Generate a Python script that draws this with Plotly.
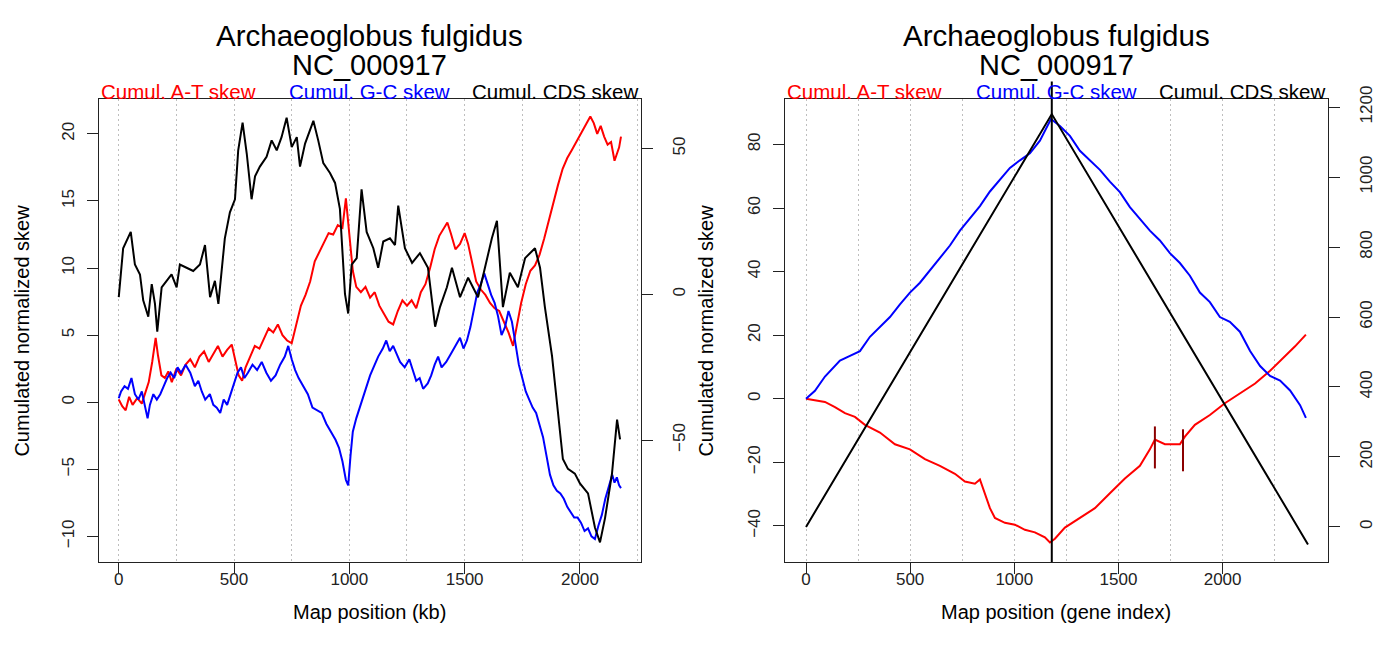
import plotly.graph_objects as go

# ---------------- Left panel: cumulated skews along the chromosome (kb) ----------------
at_kb = [0, 15, 30, 45, 60, 80, 100, 115, 130, 145, 160, 170, 185, 200, 215, 230, 250, 270, 290, 310,
         330, 350, 370, 390, 410, 430, 450, 470, 490, 505, 520, 535, 550, 570, 590, 610, 630, 650, 670, 690,
         710, 730, 750, 770, 790, 810, 830, 850, 870, 890, 910, 930, 950, 970, 985, 1000, 1015, 1030, 1050, 1070,
         1090, 1110, 1130, 1150, 1170, 1190, 1210, 1230, 1250, 1270, 1290, 1310, 1330, 1350, 1370, 1390, 1410, 1425, 1440, 1460,
         1480, 1500, 1515, 1530, 1550, 1570, 1590, 1610, 1630, 1650, 1670, 1690, 1710, 1725, 1745, 1765, 1785, 1805, 1825, 1845,
         1865, 1885, 1905, 1925, 1945, 1965, 1985, 2005, 2025, 2045, 2060, 2075, 2090, 2105, 2120, 2135, 2150, 2160, 2170, 2178]
at_skew = [0.2, -0.3, -0.6, 0.4, -0.2, 0.3, -0.1, 0.8, 1.5, 3.0, 4.8, 3.5, 2.0, 1.8, 2.3, 1.5, 2.5, 2.0, 2.8, 3.2,
           2.6, 3.4, 3.8, 3.0, 3.6, 4.2, 3.4, 3.9, 4.3, 3.2, 2.0, 1.6, 2.6, 3.4, 4.2, 4.0, 4.8, 5.5, 5.2, 5.8,
           5.0, 4.6, 4.4, 5.8, 7.2, 8.0, 9.0, 10.5, 11.2, 12.0, 12.6, 12.5, 13.2, 13.0, 15.2, 12.5, 9.8, 8.6, 8.2, 8.6,
           7.8, 8.2, 7.2, 6.6, 6.0, 5.8, 6.8, 7.6, 7.2, 7.6, 7.0, 8.2, 8.8, 10.0, 11.4, 12.4, 13.0, 13.4, 12.6, 11.4,
           11.8, 12.6, 11.8, 10.6, 9.0, 8.4, 8.0, 7.4, 7.0, 6.8, 6.0, 5.2, 4.2, 5.6, 7.4, 8.8, 9.8, 10.2, 11.0, 12.2,
           13.6, 15.0, 16.2, 17.4, 18.2, 18.8, 19.4, 20.0, 20.6, 21.3, 20.8, 20.0, 20.6, 19.8, 19.2, 19.4, 18.0, 18.6, 19.0, 19.8]

gc_kb = [0, 10, 25, 40, 55, 70, 85, 100, 115, 125, 135, 150, 165, 180, 195, 210, 225, 240, 255, 270,
         290, 310, 330, 345, 360, 375, 395, 410, 425, 440, 455, 470, 485, 500, 515, 530, 545, 560, 580, 600,
         620, 640, 660, 680, 700, 720, 735, 750, 765, 780, 800, 820, 840, 860, 880, 900, 920, 940, 955, 970,
         985, 995, 1005, 1015, 1030, 1045, 1060, 1075, 1090, 1110, 1125, 1145, 1160, 1175, 1190, 1205, 1220, 1240, 1260, 1275,
         1290, 1305, 1320, 1340, 1355, 1370, 1385, 1400, 1420, 1440, 1460, 1480, 1495, 1510, 1525, 1540, 1555, 1570, 1585, 1600,
         1615, 1630, 1645, 1660, 1675, 1690, 1705, 1720, 1735, 1750, 1765, 1780, 1795, 1810, 1825, 1840, 1855, 1870, 1885, 1900,
         1915, 1930, 1945, 1960, 1975, 1990, 2005, 2020, 2035, 2050, 2065, 2080, 2095, 2110, 2125, 2140, 2150, 2160, 2170, 2178]
gc_skew = [0.3, 0.8, 1.2, 1.0, 1.8, 0.6, 0.2, 0.8, -0.4, -1.2, -0.2, 0.6, 0.2, 0.6, 1.2, 1.8, 2.2, 1.8, 2.6, 2.2,
           2.8, 2.2, 1.2, 1.6, 0.8, 0.2, 0.6, -0.2, -0.4, -0.8, 0.2, -0.2, 0.6, 1.4, 2.2, 2.6, 1.8, 2.2, 2.8, 2.4,
           3.0, 2.2, 1.6, 2.0, 2.8, 3.4, 4.2, 3.2, 2.4, 1.8, 1.2, 0.6, -0.4, -0.6, -0.8, -1.6, -2.2, -2.8, -3.4, -4.4,
           -5.8, -6.2, -4.0, -2.2, -1.2, -0.4, 0.4, 1.2, 2.0, 2.8, 3.4, 4.0, 4.6, 3.8, 4.2, 3.6, 3.0, 2.6, 3.2, 2.4,
           1.6, 1.8, 1.0, 1.4, 2.0, 2.8, 3.4, 2.6, 3.0, 3.6, 4.2, 4.8, 4.0, 4.6, 5.6, 7.0, 8.2, 8.8, 9.6, 8.8,
           8.0, 7.4, 6.4, 5.0, 5.6, 6.8, 6.0, 4.4, 2.8, 1.8, 0.8, 0.2, -0.4, -0.8, -1.8, -2.6, -4.0, -5.4, -6.2, -6.6,
           -6.8, -7.2, -7.8, -8.2, -8.6, -8.6, -9.0, -9.6, -9.4, -10.0, -10.2, -9.2, -8.4, -7.2, -6.2, -5.4, -6.0, -5.6, -6.2, -6.4]

cds_kb = [0, 19, 52, 70, 92, 106, 128, 143, 157, 167, 186, 208, 229, 251, 265, 294, 323, 352, 374, 396,
          417, 432, 460, 482, 504, 518, 537, 555, 576, 591, 612, 641, 663, 685, 706, 728, 750, 772, 786, 808,
          844, 865, 887, 916, 938, 959, 981, 995, 1010, 1032, 1053, 1075, 1104, 1125, 1147, 1176, 1198, 1212, 1241, 1272,
          1306, 1341, 1372, 1393, 1423, 1445, 1480, 1515, 1558, 1588, 1618, 1640, 1666, 1696, 1731, 1762, 1805, 1827, 1848, 1879,
          1905, 1926, 1948, 1978, 2000, 2035, 2065, 2087, 2109, 2139, 2161, 2174]
cds_skew = [-1.0, 15.8, 21.4, 10.2, 6.8, -2.1, -7.7, 3.5, -3.3, -12.8, 2.4, 4.6, 6.8, 2.4, 10.2, 9.1, 8.0, 10.2, 16.9, -1.0,
            4.6, -3.3, 19.2, 28.1, 32.6, 49.4, 58.9, 48.3, 32.6, 40.5, 43.8, 47.2, 52.8, 49.4, 53.9, 60.6, 50.5, 53.9, 43.8, 51.7,
            59.5, 52.8, 45.0, 41.6, 38.2, 29.3, 0.1, -6.6, 10.2, 12.4, 36.0, 21.4, 15.8, 9.1, 18.1, 19.2, 16.9, 30.4, 15.8, 10.8,
            14.1, 9.1, -11.1, -4.4, 2.4, 9.1, -1.0, 5.7, -1.0, 9.1, 19.2, 25.2, -4.4, 7.4, 2.4, 12.4, 15.8, 9.1, -4.4, -21.2,
            -41.4, -56.5, -59.9, -61.5, -64.9, -68.3, -80.0, -85.1, -76.7, -61.5, -43.0, -49.8]

# ---------------- Right panel: cumulated skews along the gene order ----------------
at_gene = [0, 43, 91, 139, 187, 235, 283, 355, 427, 499, 571, 643, 715, 763, 811, 835, 859, 883, 907, 955,
           1003, 1051, 1099, 1147, 1171, 1195, 1243, 1315, 1387, 1459, 1531, 1603, 1651, 1675, 1723, 1795, 1819, 1867, 1939, 2011,
           2083, 2156, 2228, 2300, 2348, 2400]
at_gene_skew = [0, -0.5, -1.0, -2.6, -4.5, -5.7, -8.2, -10.6, -14.3, -15.9, -19.0, -21.1, -23.6, -26.0, -26.7, -25.4, -29.7, -34.4, -37.5, -39.0,
                -39.6, -41.2, -42.0, -43.6, -45.2, -44.0, -40.5, -37.5, -34.4, -29.7, -25.1, -21.1, -15.9, -12.8, -14.3, -14.3, -11.9, -8.2, -5.1, -1.4,
                1.7, 4.8, 8.8, 13.4, 16.5, 20.2]

gc_gene = [0, 43, 91, 163, 211, 259, 307, 355, 403, 451, 499, 547, 595, 643, 691, 739, 787, 835, 883, 931,
           979, 1027, 1075, 1123, 1147, 1176, 1219, 1267, 1315, 1363, 1411, 1459, 1507, 1555, 1603, 1651, 1699, 1747, 1795, 1843,
           1891, 1939, 1987, 2035, 2083, 2132, 2180, 2228, 2276, 2324, 2372, 2400]
gc_gene_skew = [0, 2.5, 7.0, 12.0, 13.5, 15.0, 19.5, 22.6, 25.7, 29.7, 33.4, 36.5, 40.5, 44.2, 48.2, 52.9, 56.6, 60.6, 65.2, 68.9,
                72.6, 75.0, 77.2, 81.2, 84.3, 88.0, 85.8, 82.7, 78.0, 75.0, 72.0, 68.3, 65.0, 60.3, 56.6, 52.9, 49.8, 45.8, 42.7, 38.7,
                33.4, 30.4, 25.7, 24.2, 21.1, 15.0, 10.3, 7.2, 5.7, 2.6, -2.0, -6.0]

cds_gene = [0, 1180, 2410]
cds_gene_skew = [0, 1180, -50]
origin_gene = 1180

mark_gene = [1675, 1810]
mark_skew = [-15.3, -16.2]

kb_ticks = [0, 500, 1000, 1500, 2000]
gene_ticks = [0, 500, 1000, 1500, 2000]

RED, BLUE, BLACK, DARKRED = "#FF0000", "#0000FF", "#000000", "#8B0000"
FONT = "Liberation Sans, Arial, Helvetica, sans-serif"
AXIS_COL = "#222222"
GRID_COL = "#BEBEBE"
GRID_DASH = "2px,3px"

fig = go.Figure()
fig.add_trace(go.Scatter(x=at_kb, y=at_skew, mode="lines", line=dict(color=RED, width=2), xaxis="x", yaxis="y"))
fig.add_trace(go.Scatter(x=gc_kb, y=gc_skew, mode="lines", line=dict(color=BLUE, width=2), xaxis="x", yaxis="y"))
fig.add_trace(go.Scatter(x=cds_kb, y=cds_skew, mode="lines", line=dict(color=BLACK, width=2), xaxis="x", yaxis="y2"))

fig.add_trace(go.Scatter(x=at_gene, y=at_gene_skew, mode="lines", line=dict(color=RED, width=2), xaxis="x2", yaxis="y3"))
fig.add_trace(go.Scatter(x=gc_gene, y=gc_gene_skew, mode="lines", line=dict(color=BLUE, width=2), xaxis="x2", yaxis="y3"))
fig.add_trace(go.Scatter(x=cds_gene, y=cds_gene_skew, mode="lines", line=dict(color=BLACK, width=2), xaxis="x2", yaxis="y4"))
fig.add_trace(go.Scatter(x=mark_gene, y=mark_skew, mode="markers",
                         marker=dict(symbol="line-ns-open", size=30, color=DARKRED, line=dict(color=DARKRED, width=2)),
                         xaxis="x2", yaxis="y3"))

# vertical line at the origin of replication, overhanging the top of the frame
fig.add_shape(type="line", xref="x2", yref="paper", x0=origin_gene, x1=origin_gene,
              y0=0.1437, y1=0.893, line=dict(color=BLACK, width=2))

tickfont = dict(family=FONT, size=17, color="#222222")

def xaxis_cfg(domain, rng, anchor, tickvals):
    return dict(domain=domain, range=rng, anchor=anchor, tickvals=tickvals,
                ticks="outside", ticklen=11, tickcolor=AXIS_COL, tickwidth=1,
                showline=True, linecolor=AXIS_COL, linewidth=1, mirror=True,
                showgrid=True, gridcolor=GRID_COL, griddash=GRID_DASH, gridwidth=1,
                minor=dict(dtick=250, tick0=0, showgrid=True, gridcolor=GRID_COL, griddash=GRID_DASH, ticks=""),
                zeroline=False, tickfont=tickfont, ticklabelstandoff=-9)

def yaxis_cfg(domain, rng, anchor, tickvals, side="left", overlay=None):
    cfg = dict(domain=domain, range=rng, anchor=anchor, tickvals=tickvals, tickangle=-90, side=side,
               ticks="outside", ticklen=11, tickcolor=AXIS_COL, tickwidth=1,
               showline=True, linecolor=AXIS_COL, linewidth=1, mirror=(overlay is None),
               showgrid=False, zeroline=False, tickfont=tickfont,
               ticklabelstandoff=6 if side == "left" else 12)
    if overlay:
        cfg["overlaying"] = overlay
    return cfg

XL = [0.0713, 0.4632]
XR = [0.5672, 0.9593]
YD = [0.1437, 0.8654]

fig.update_layout(
    width=1384, height=654, margin=dict(l=0, r=0, t=0, b=0),
    paper_bgcolor="white", plot_bgcolor="white", showlegend=False,
    font=dict(family=FONT, color="#000000"),
    xaxis=xaxis_cfg(XL, [-87.1, 2265.1], "y", kb_ticks),
    yaxis=yaxis_cfg(YD, [-11.9, 22.58], "x", [-10, -5, 0, 5, 10, 15, 20]),
    yaxis2=yaxis_cfg(YD, [-91.8, 66.9], "x", [-50, 0, 50], side="right", overlay="y"),
    xaxis2=xaxis_cfg(XR, [-100.8, 2504.5], "y3", gene_ticks),
    yaxis3=yaxis_cfg(YD, [-51.3, 94.2], "x2", [-40, -20, 0, 20, 40, 60, 80]),
    yaxis4=yaxis_cfg(YD, [-100, 1222.4], "x2", [0, 200, 400, 600, 800, 1000, 1200], side="right", overlay="y3"),
)

# titles, series labels and axis titles
ann = []
for xd, xlab in ((XL, "Map position (kb)"), (XR, "Map position (gene index)")):
    xc = (xd[0] + xd[1]) / 2
    ann.append(dict(text="Archaeoglobus fulgidus", x=xc, y=1 - 23 / 654, font=dict(size=29.5)))
    ann.append(dict(text="NC_000917", x=xc, y=1 - 53 / 654, font=dict(size=29)))
    ann.append(dict(text="Cumul. A-T skew", x=xd[0], y=1 - 80 / 654, xanchor="left", font=dict(size=20.5, color=RED)))
    ann.append(dict(text="Cumul. G-C skew", x=xc, y=1 - 80 / 654, font=dict(size=20.5, color=BLUE)))
    ann.append(dict(text="Cumul. CDS skew", x=xd[1], y=1 - 80 / 654, xanchor="right", font=dict(size=20.5, color=BLACK)))
    ann.append(dict(text=xlab, x=xc, y=1 - 611 / 654, font=dict(size=20)))
ann.append(dict(text="Cumulated normalized skew", x=22 / 1384, y=(YD[0] + YD[1]) / 2, textangle=-90, font=dict(size=20)))
ann.append(dict(text="Cumulated normalized skew", x=706 / 1384, y=(YD[0] + YD[1]) / 2, textangle=-90, font=dict(size=20)))
for a in ann:
    a.update(xref="paper", yref="paper", showarrow=False, xanchor=a.get("xanchor", "center"), yanchor="middle")
fig.update_layout(annotations=ann)

fig.write_html("out.html")
